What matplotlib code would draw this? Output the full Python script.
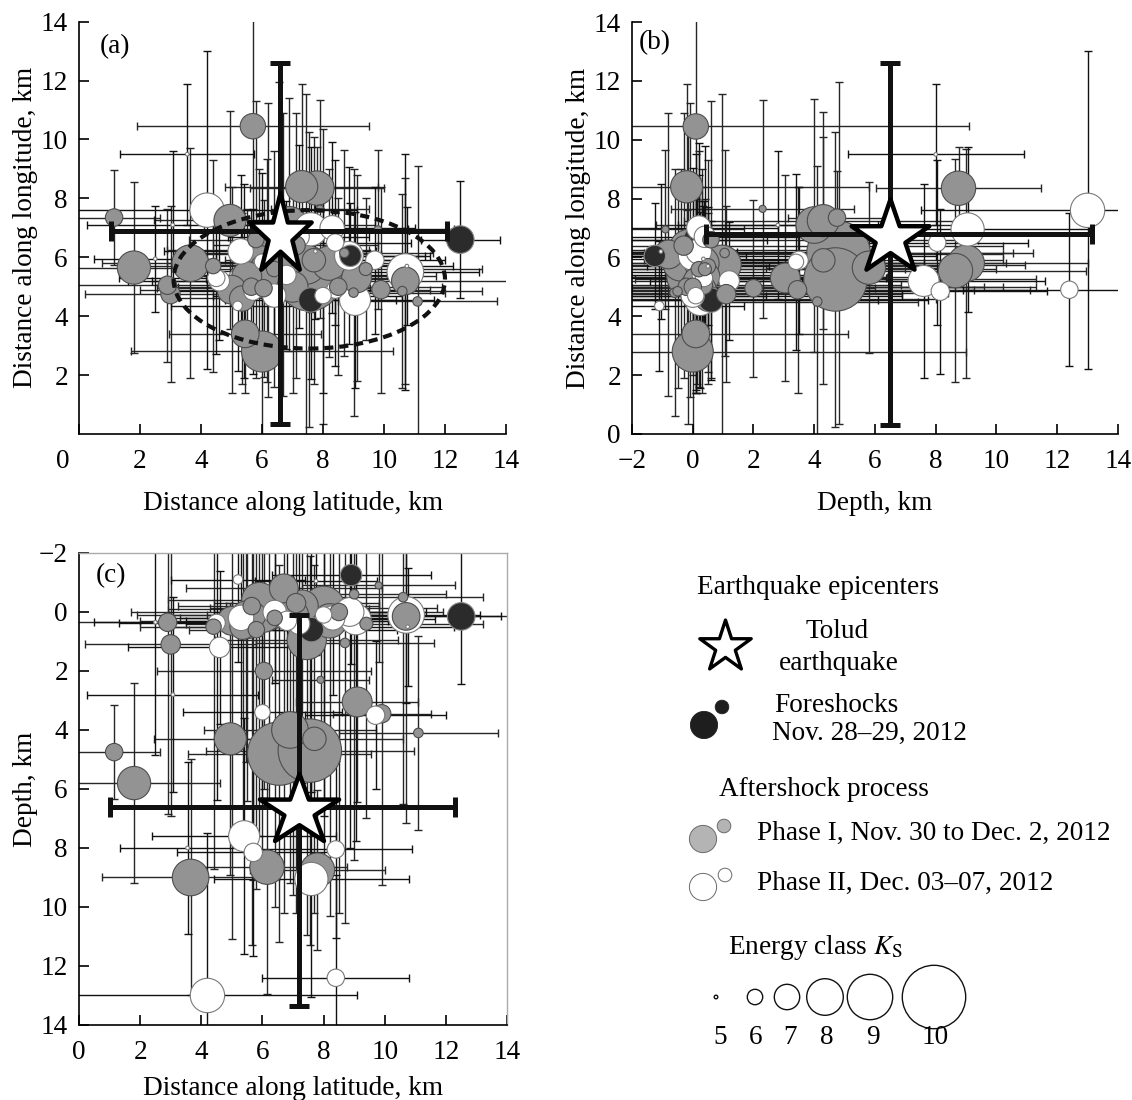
import numpy as np
import matplotlib
matplotlib.use('Agg')
import matplotlib.pyplot as plt
from matplotlib.patches import Ellipse
from matplotlib.path import Path
from matplotlib.markers import MarkerStyle
from matplotlib.transforms import ScaledTranslation

plt.rcParams['font.family'] = ['Liberation Serif', 'DejaVu Serif']
plt.rcParams['mathtext.fontset'] = 'stix'
FS = 19.6

# event catalogue: phase 0 = foreshock, 1 = phase I, 2 = phase II
lat = [8.9, 12.5, 7.6,
       1.15, 1.8, 2.9, 3.0, 3.65, 4.95, 5.7, 5.0, 5.35, 5.65, 5.9, 6.2, 5.45, 6.0,
       7.3, 7.8, 6.7, 7.45, 8.0, 6.55, 7.55, 9.1, 9.9, 10.7, 9.0, 11.1, 10.6, 8.7,
       6.05, 7.9, 9.8, 6.9, 6.15, 5.5, 7.0, 8.2,
       4.2, 2.5, 3.55, 4.5, 4.6, 5.4, 5.7, 8.85, 9.05, 9.7, 10.7, 10.75, 8.4, 7.6,
       8.4, 7.75, 3.07, 5.2, 6.0, 8.3, 6.4, 5.3,
       6.4, 7.1, 4.4, 8.5, 7.7, 5.8, 9.4,
       6.8, 8.0, 7.2]
lon = [6.05, 6.6, 4.55,
       7.35, 5.65, 5.05, 4.75, 5.8, 7.25, 10.45, 4.9, 4.6, 5.0, 5.8, 6.25, 3.4, 2.8,
       8.4, 8.35, 6.1, 5.75, 5.35, 6.15, 5.25, 5.3, 4.9, 5.2, 4.8, 4.5, 4.85, 6.15,
       4.95, 7.65, 6.95, 7.1, 5.55, 5.35, 5.0, 5.8,
       7.6, 5.95, 9.5, 5.3, 5.2, 5.2, 4.85, 6.05, 4.55, 5.9, 5.5, 5.7, 6.5, 6.95,
       4.9, 6.2, 7.1, 4.35, 5.85, 7.0, 4.7, 6.2,
       5.6, 6.4, 5.7, 5.0, 5.9, 6.6, 5.6,
       5.4, 4.7, 6.7]
dep = [-1.25, 0.15, 0.6,
       4.75, 5.8, 0.35, 1.1, 9.0, 4.3, 0.1, 0.3, 0.5, -0.2, -0.4, -0.1, 0.1, 0.0,
       -0.2, 8.75, -0.8, 0.95, -0.15, 4.8, 4.7, 3.05, 3.45, 0.15, -0.6, 4.1, -0.5, 1.05,
       2.0, 2.3, -0.9, 4.0, 8.65, 0.4, 0.1, 0.3,
       13.0, 0.35, 8.0, 0.37, 1.2, 7.6, 8.15, 0.0, 0.25, 3.5, 0.1, 0.5, 8.05, 9.05,
       12.4, -1.05, 2.8, -1.1, 3.4, 0.2, 0.0, 0.2,
       0.2, -0.3, 0.5, 0.0, 4.3, 0.6, 0.4,
       0.3, 0.1, 0.4]
err_lat = [2.6, 1.3, 2.8,
           1.5, 2.8, 3.0, 2.8, 2.9, 2.5, 3.8, 3.0, 2.5, 2.4, 3.0, 3.3, 2.5, 4.3,
           2.5, 2.2, 3.2, 3.0, 3.7, 3.0, 3.4, 2.0, 1.6, 3.5, 3.0, 2.6, 2.6, 2.9,
           3.5, 1.6, 2.5, 2.8, 2.6, 2.0, 2.8, 2.5,
           4.9, 2.0, 2.2, 3.2, 3.0, 3.0, 2.5, 2.5, 2.6, 2.3, 2.4, 1.5, 2.5, 3.2,
           2.4, 2.0, 2.8, 2.2, 2.6, 2.7, 2.0, 2.5,
           3.1, 2.7, 2.4, 3.4, 2.9, 2.2, 3.8,
           3.3, 2.6, 2.3]
err_lon = [1.8, 2.0, 2.7,
           1.6, 2.9, 2.6, 3.0, 3.9, 3.7, 4.0, 3.5, 2.9, 2.6, 3.2, 5.0, 2.0, 3.4,
           3.5, 1.4, 4.8, 5.8, 5.0, 5.8, 5.0, 3.5, 3.5, 3.5, 4.2, 4.6, 3.3, 3.5,
           3.0, 3.7, 2.7, 4.3, 3.8, 2.3, 3.6, 3.2,
           5.4, 1.8, 2.4, 2.6, 2.0, 3.3, 2.8, 3.0, 3.0, 2.5, 4.0, 2.0, 2.8, 2.8,
           2.6, 2.3, 2.5, 2.2, 3.0, 2.9, 2.2, 2.6,
           4.0, 4.5, 3.6, 3.0, 4.2, 4.7, 2.4,
           2.5, 3.3, 3.1]
err_dep = [3.0, 2.3, 5.5,
           1.6, 3.4, 6.5, 5.8, 4.0, 4.6, 9.0, 10.8, 7.5, 11.5, 8.0, 6.5, 5.0, 9.0,
           6.0, 2.7, 11.0, 10.0, 8.5, 6.4, 6.6, 3.4, 5.8, 7.0, 9.0, 3.3, 7.0, 9.5,
           4.0, 3.0, 2.6, 5.2, 4.3, 6.0, 9.5, 10.0,
           5.5, 4.5, 2.9, 6.0, 2.6, 4.0, 3.5, 8.0, 7.5, 2.5, 3.0, 2.0, 3.0, 4.0,
           3.5, 2.5, 3.3, 2.8, 2.9, 2.6, 2.4, 4.0,
           9.8, 10.5, 8.2, 10.2, 5.9, 8.8, 6.6,
           5.2, 6.8, 4.4]
ks = [6.6, 7.2, 6.9,
      6.2, 7.7, 6.3, 6.4, 8.0, 7.6, 7.0, 7.3, 7.0, 6.2, 7.9, 8.6, 7.2, 8.5,
      7.6, 7.8, 7.3, 8.3, 8.7, 10.0, 10.0, 7.4, 6.3, 7.2, 5.5, 5.5, 5.5, 5.5,
      6.2, 5.3, 5.3, 8.0, 7.8, 7.4, 7.5, 7.8,
      7.8, 5.0, 5.0, 6.2, 6.5, 7.5, 6.3, 7.3, 7.5, 6.3, 8.0, 5.0, 6.2, 7.7,
      6.2, 5.0, 5.0, 5.5, 6.0, 6.9, 6.8, 7.0,
      6.0, 6.4, 6.0, 6.2, 6.8, 6.1, 5.8,
      6.4, 6.1, 6.6]
phase = [0] * 3 + [1] * 36 + [2] * 22 + [1] * 7 + [2] * 3

# Tolud main shock, as plotted in each panel: (x, y, xerr[-,+], yerr[-,+])
main_a = (6.6, 6.9, [5.55, 5.45], [6.55, 5.7])
main_b = (6.5, 6.8, [6.05, 6.65], [6.5, 5.8])
main_c = (7.2, 6.6, [6.2, 5.1], [6.5, 6.75])

# energy class scale (legend)
k_classes = [5, 6, 7, 8, 9, 10]
k_radius_px = [1.8, 7.7, 12.7, 18.3, 22.7, 31.7]

face_cols = ['#2b2b2b', '#939393', '#ffffff']
edge_cols = ['#8a8a8a', '#4d4d4d', '#7a7a7a']
err_cols = ['#111111', '#262626', '#111111']


def msize(k):
    r = np.interp(k, k_classes, k_radius_px)
    return (2 * r * 0.72) ** 2


def star_marker(aspect):
    ang = np.pi / 2 + np.arange(10) * np.pi / 5
    rad = np.where(np.arange(10) % 2 == 0, 1.0, 0.382)
    x = rad * np.cos(ang)
    y = rad * np.sin(ang) * aspect
    y = y - (y.max() + y.min()) / 2
    v = np.column_stack([x, y])
    v = np.vstack([v, v[:1]])
    return MarkerStyle(Path(v, closed=True), joinstyle='miter')


ph = np.array(phase)
K = np.array(ks)


def panel(ax, xs, ys, exs, eys, main, star_asp, star_ms):
    xs, ys, exs, eys = map(np.array, (xs, ys, exs, eys))
    for p in (1, 2, 0):
        m = ph == p
        ax.errorbar(xs[m], ys[m], xerr=exs[m], yerr=eys[m], fmt='none',
                    ecolor=err_cols[p], elinewidth=1.0, capsize=3, capthick=1.0,
                    zorder=1)
    order = np.argsort(-K, kind='stable')
    ax.scatter(xs[order], ys[order], s=msize(K[order]),
               c=[face_cols[p] for p in ph[order]],
               edgecolors=[edge_cols[p] for p in ph[order]],
               linewidths=0.8, zorder=3)
    mx, my, mex, mey = main
    ax.errorbar([mx], [my], xerr=[[mex[0]], [mex[1]]], yerr=[[mey[0]], [mey[1]]],
                fmt='none', ecolor='#111111', elinewidth=3.6, capsize=7,
                capthick=3.6, zorder=4)
    ax.plot([mx], [my], marker=star_marker(star_asp), ms=star_ms, mfc='white',
            mec='black', mew=3.2, ls='none', zorder=5)
    ax.tick_params(direction='in', length=7, width=1.2, labelsize=FS)
    ax.tick_params(axis='x', pad=11)
    ax.tick_params(axis='y', pad=8)
    for s in ax.spines.values():
        s.set_linewidth(1.2)


fig = plt.figure(figsize=(11.32, 11.0), dpi=100)

# (a) latitude vs longitude
ax_a = fig.add_axes([0.0698, 0.6055, 0.3772, 0.3748])
panel(ax_a, lat, lon, err_lat, err_lon, main_a, 1.29, 55)
ax_a.add_patch(Ellipse((7.55, 5.25), 8.9, 4.7, fill=False, ls=(0, (2.2, 1.4)),
                       lw=3, ec='#111111', zorder=4))
ax_a.set_xlim(0, 14)
ax_a.set_ylim(0, 14)
ax_a.set_xticks(np.arange(0, 15, 2))
ax_a.set_yticks(np.arange(2, 15, 2))
ax_a.spines[['top', 'right']].set_visible(False)
ax_a.set_xlabel('Distance along latitude, km', fontsize=FS, labelpad=12)
ax_a.set_ylabel('Distance along longitude, km', fontsize=FS, labelpad=2)
ax_a.text(0.049, 0.94, '(a)', transform=ax_a.transAxes, fontsize=FS, va='center')
zero = ax_a.get_xticklabels()[0]
zero.set_transform(zero.get_transform() +
                   ScaledTranslation(-0.16, 0, fig.dpi_scale_trans))

# (b) depth vs longitude
ax_b = fig.add_axes([0.5583, 0.6055, 0.4293, 0.3745])
panel(ax_b, dep, lon, err_dep, err_lon, main_b, 0.95, 56)
ax_b.set_xlim(-2, 14)
ax_b.set_ylim(0, 14)
ax_b.set_xticks(np.arange(-2, 15, 2))
ax_b.set_yticks(np.arange(0, 15, 2))
ax_b.spines[['top', 'right']].set_visible(False)
ax_b.set_xlabel('Depth, km', fontsize=FS, labelpad=12)
ax_b.set_ylabel('Distance along longitude, km', fontsize=FS, labelpad=2)
ax_b.text(0.014, 0.95, '(b)', transform=ax_b.transAxes, fontsize=FS, va='center')

# (c) latitude vs depth
ax_c = fig.add_axes([0.0698, 0.0682, 0.3781, 0.4291])
panel(ax_c, lat, dep, err_lat, err_dep, main_c, 0.89, 57)
ax_c.set_xlim(0, 14)
ax_c.set_ylim(14, -2)
ax_c.set_xticks(np.arange(0, 15, 2))
ax_c.set_yticks(np.arange(-2, 15, 2))
for s in ('top', 'right'):
    ax_c.spines[s].set_color('#aaaaaa')
    ax_c.spines[s].set_linewidth(1.0)
ax_c.set_xlabel('Distance along latitude, km', fontsize=FS, labelpad=8)
ax_c.set_ylabel('Depth, km', fontsize=FS, labelpad=1)
ax_c.text(0.038, 0.951, '(c)', transform=ax_c.transAxes, fontsize=FS, va='center')

# legend, laid out in pixel coordinates
lg = fig.add_axes([0, 0, 1, 1])
lg.set_xlim(0, 1132)
lg.set_ylim(1100, 0)
lg.axis('off')
lg.patch.set_visible(False)

lg.text(697, 588, 'Earthquake epicenters', fontsize=FS, va='center')
lg.plot([725], [644], marker=star_marker(1.0), ms=37, mfc='white', mec='black',
        mew=2.4, ls='none')
lg.text(837, 632, 'Tolud', fontsize=FS, va='center', ha='center')
lg.text(839, 663, 'earthquake', fontsize=FS, va='center', ha='center')

big = (2 * 13.6 * 0.72) ** 2
small = (2 * 6.8 * 0.72) ** 2
lg.scatter([704, 722], [725, 707], s=[big, small],
           c='#1e1e1e', edgecolors='#1e1e1e', linewidths=0.6)
lg.text(774, 706, 'Foreshocks', fontsize=FS, va='center')
lg.text(772, 733, 'Nov. 28\u201329, 2012', fontsize=FS, va='center')

lg.text(719, 790, 'Aftershock process', fontsize=FS, va='center')
lg.scatter([703, 724], [839, 826], s=[big, small],
           c='#b4b4b4', edgecolors='#6a6a6a', linewidths=0.7)
lg.text(757, 833, 'Phase I, Nov. 30 to Dec. 2, 2012', fontsize=FS, va='center')
lg.scatter([703, 725], [887, 875], s=[big, small],
           c='white', edgecolors='#6a6a6a', linewidths=0.7)
lg.text(757, 883, 'Phase II, Dec. 03\u201307, 2012', fontsize=FS, va='center')

lg.text(728, 948, 'Energy class $K_\\mathrm{S}$', fontsize=FS, va='center')
k_x = [716, 755, 787, 825, 870, 934]
lg.scatter(k_x, [997] * 6, s=msize(np.array(k_classes)), facecolors='none',
           edgecolors='#111111', linewidths=1.0)
for kx, kc in zip([720, 756, 790, 827, 873, 935], k_classes):
    lg.text(kx, 1038, str(kc), fontsize=FS, va='center', ha='center')

plt.savefig('out.png', dpi=100)
